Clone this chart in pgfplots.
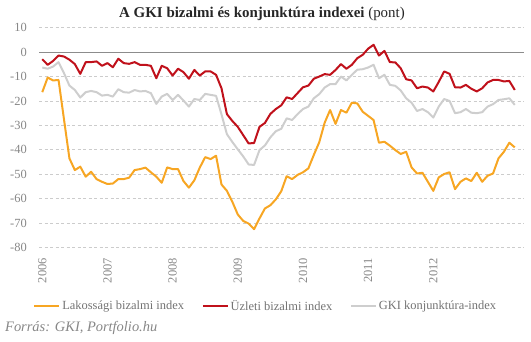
\documentclass[border=0pt]{standalone}
\usepackage{pgfplots}
\pgfplotsset{compat=1.18}
\usepackage{pgfplotstable}
\usepackage{fontspec}
\setmainfont{Liberation Serif}
\definecolor{lakcol}{RGB}{247,166,35}
\definecolor{uzlcol}{RGB}{192,17,27}
\definecolor{gkicol}{RGB}{206,206,206}
\definecolor{ticktxt}{RGB}{135,135,135}
\definecolor{legtxt}{RGB}{115,115,115}
\definecolor{gridc}{RGB}{204,204,204}
\definecolor{zeroc}{RGB}{140,140,140}

\pgfplotstableread{
m lak uzl gki
0 -16.4 -2.9 -6.3
1 -10.4 -5.2 -6.8
2 -11.6 -3.6 -5.9
3 -11.4 -1.4 -4.1
4 -27.5 -1.8 -8.6
5 -43.5 -3.1 -13.7
6 -48.3 -4.9 -15.5
7 -46.9 -8.9 -18.6
8 -51.0 -4.1 -16.4
9 -49.0 -4.1 -15.9
10 -52.0 -3.8 -16.4
11 -53.1 -5.6 -17.8
12 -54.0 -4.5 -17.5
13 -53.8 -6.2 -18.2
14 -52.0 -2.7 -15.2
15 -52.0 -4.5 -16.4
16 -51.4 -4.8 -16.6
17 -48.3 -4.1 -15.5
18 -47.9 -5.2 -16.1
19 -47.3 -5.2 -15.9
20 -49.2 -5.6 -16.8
21 -51.0 -10.7 -21.2
22 -53.5 -5.6 -18.2
23 -47.2 -6.6 -17.1
24 -47.9 -9.6 -19.6
25 -47.9 -6.8 -17.5
26 -52.8 -8.2 -19.8
27 -55.5 -10.9 -22.3
28 -52.5 -7.3 -19.2
29 -47.3 -9.6 -19.6
30 -43.0 -7.9 -17.1
31 -43.8 -7.9 -17.5
32 -42.4 -9.3 -17.9
33 -54.2 -14.8 -25.5
34 -56.8 -25.4 -33.6
35 -61.3 -28.2 -36.8
36 -66.5 -30.6 -39.8
37 -69.1 -34.0 -42.7
38 -70.2 -37.4 -46.0
39 -72.5 -37.2 -46.2
40 -68.1 -30.6 -40.1
41 -64.0 -29.0 -38.2
42 -62.7 -25.3 -34.9
43 -60.3 -23.3 -32.4
44 -57.0 -21.8 -31.4
45 -50.8 -18.5 -27.1
46 -52.0 -19.2 -27.8
47 -50.3 -16.8 -25.4
48 -49.2 -14.4 -23.3
49 -47.6 -13.7 -22.3
50 -42.1 -10.9 -18.9
51 -36.9 -10.0 -17.2
52 -28.9 -9.0 -14.5
53 -23.7 -9.3 -13.1
54 -29.4 -7.3 -13.1
55 -23.7 -4.9 -10.0
56 -24.8 -6.8 -11.6
57 -20.7 -5.2 -9.3
58 -21.0 -2.5 -7.2
59 -24.4 -1.1 -7.0
60 -26.1 1.4 -6.3
61 -27.8 3.0 -5.2
62 -37.1 -1.4 -10.7
63 -36.7 0.5 -9.3
64 -38.3 -4.1 -13.4
65 -40.1 -4.2 -13.8
66 -41.7 -6.6 -15.7
67 -40.8 -11.1 -18.9
68 -47.2 -11.6 -20.7
69 -49.7 -14.8 -24.1
70 -49.4 -14.1 -23.3
71 -53.1 -14.5 -24.6
72 -56.8 -16.1 -26.8
73 -51.3 -12.2 -22.3
74 -49.9 -7.9 -19.2
75 -49.2 -8.9 -20.0
76 -56.1 -14.4 -25.0
77 -53.1 -14.5 -24.6
78 -51.7 -13.4 -23.3
79 -52.8 -15.0 -24.8
80 -49.4 -16.1 -25.0
81 -53.1 -14.8 -24.6
82 -50.6 -12.4 -22.3
83 -49.7 -11.4 -21.3
84 -43.5 -11.4 -19.6
85 -40.8 -12.0 -19.3
86 -37.1 -11.8 -18.9
87 -39.0 -15.5 -21.6
}\data

\begin{document}
\begin{tikzpicture}
\useasboundingbox (0,0) rectangle (531bp,342bp);
\begin{axis}[
  at={(39bp,94.5bp)}, anchor=south west,
  scale only axis, width=485bp, height=219.8bp,
  xmin=-0.6, xmax=88.7, ymin=-80, ymax=10,
  ytick={-80,-70,...,10},
  xtick={0,12,24,36,48,60,72},
  xticklabels={2006,2007,2008,2009,2010,2011,2012},
  axis line style={draw=none},
  major tick style={draw=none},
  ymajorgrids,
  grid style={gridc, dash pattern=on 3bp off 2.5bp, line width=0.8bp},
  extra y ticks={0}, extra y tick labels={},
  extra y tick style={grid style={solid, zeroc, line width=1bp}},
  /pgf/number format/assume math mode=true,
  yticklabel style={font=\fontsize{12.5}{13}\selectfont, text=ticktxt, anchor=east, inner sep=0pt, xshift=-12bp},
  xticklabel style={font=\fontsize{12.5}{13}\selectfont, text=ticktxt, yshift=-10.5bp, rotate=90, anchor=east, inner sep=0pt},
  legend columns=3,
  legend cell align=left,
  legend style={draw=none, fill=none, inner sep=0pt, at={(-0.0124,-0.266)}, anchor=west,
    font=\fontsize{12.5}{13}\selectfont, text=legtxt,
    nodes={inner xsep=1.5bp, inner ysep=1bp},
    /tikz/every even column/.append style={column sep=16bp}},
  legend image code/.code={\draw[#1, line width=2.6bp] (0bp,0bp) -- (25bp,0bp);},
  every axis plot/.append style={line width=2bp, line join=round, mark=none},
]
\addplot[lakcol] table[x=m, y=lak] {\data};
\addlegendentry{Lakossági bizalmi index}
\addplot[uzlcol] table[x=m, y=uzl] {\data};
\addlegendentry{Üzleti bizalmi index}
\addplot[gkicol] table[x=m, y=gki] {\data};
\addlegendentry{GKI konjunktúra-index}
\end{axis}
\node[font=\fontsize{15}{16}\selectfont, text=black!85, inner sep=0pt] at (262bp,328bp) {\textbf{A GKI bizalmi és konjunktúra indexei} (pont)};
\node[anchor=west, font=\itshape\fontsize{14.5}{15}\selectfont, text=ticktxt, inner sep=0pt] at (5bp,14bp) {Forrás: GKI, Portfolio.hu};
\end{tikzpicture}
\end{document}
